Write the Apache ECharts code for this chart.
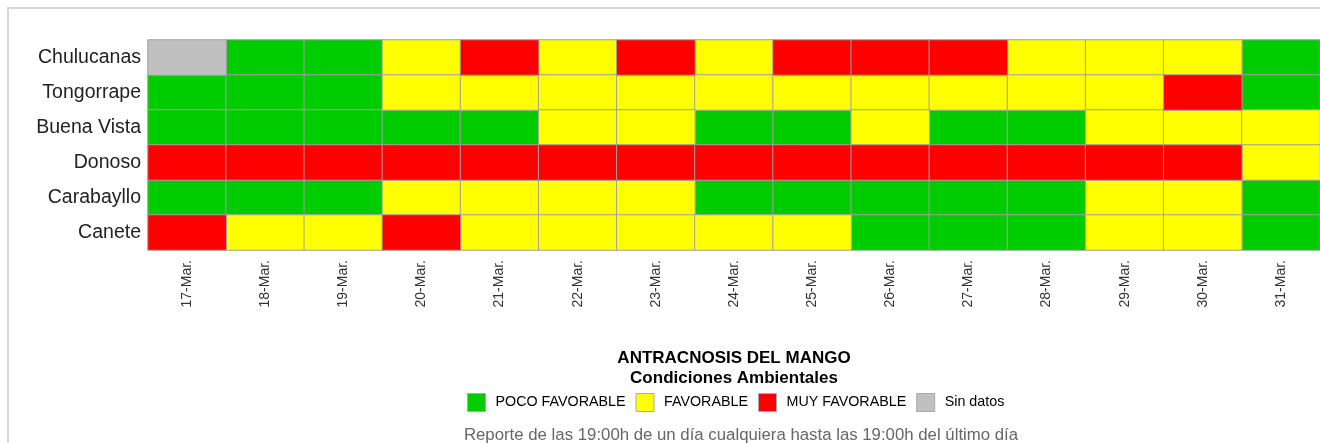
<!DOCTYPE html>
<html>
<head>
<meta charset="utf-8">
<script src="https://cdn.jsdelivr.net/npm/echarts@6/dist/echarts.min.js"></script>
<style>
html,body{margin:0;padding:0;background:#fff;}
#c{width:1320px;height:443px;}
</style>
</head>
<body>
<div id="c"></div>
<script>
// Categories
const days = ['17-Mar.','18-Mar.','19-Mar.','20-Mar.','21-Mar.','22-Mar.','23-Mar.','24-Mar.','25-Mar.','26-Mar.','27-Mar.','28-Mar.','29-Mar.','30-Mar.','31-Mar.'];
const stations = ['Chulucanas','Tongorrape','Buena Vista','Donoso','Carabayllo','Canete'];
// Condition classes: 0 = POCO FAVORABLE, 1 = FAVORABLE, 2 = MUY FAVORABLE, 3 = Sin datos
const classNames = ['POCO FAVORABLE','FAVORABLE','MUY FAVORABLE','Sin datos'];
const classColors = ['#00cc00','#ffff00','#ff0000','#c0c0c0'];
// Values per station (one per day)
const chulucanas = [3,0,0,1,2,1,2,1,2,2,2,1,1,1,0];
const tongorrape = [0,0,0,1,1,1,1,1,1,1,1,1,1,2,0];
const buenaVista = [0,0,0,0,0,1,1,0,0,1,0,0,1,1,1];
const donoso     = [2,2,2,2,2,2,2,2,2,2,2,2,2,2,1];
const carabayllo = [0,0,0,1,1,1,1,0,0,0,0,0,1,1,0];
const canete     = [2,1,1,2,1,1,1,1,1,0,0,0,1,1,0];
const rows = [chulucanas,tongorrape,buenaVista,donoso,carabayllo,canete];

const series = classNames.map((name, k) => {
  const data = [];
  rows.forEach((row, r) => row.forEach((v, d) => { if (v === k) data.push([d, r, v]); }));
  return {
    name: name,
    type: 'heatmap',
    data: data,
    itemStyle: { color: classColors[k], borderColor: '#a0a0a0', borderWidth: 1 },
    emphasis: { disabled: true },
    animation: false
  };
});

const chart = echarts.init(document.getElementById('c'), null, { renderer: 'canvas' });
chart.setOption({
  animation: false,
  backgroundColor: '#fff',
  textStyle: { fontFamily: 'Liberation Sans, Arial, sans-serif' },
  graphic: [{
    type: 'rect', silent: true, z: -1,
    shape: { x: 8, y: 8, width: 1400, height: 500 },
    style: { fill: 'none', stroke: '#d6d6d6', lineWidth: 2 }
  }],
  title: [{
    text: 'ANTRACNOSIS DEL MANGO\nCondiciones Ambientales',
    left: 729, top: 343, textAlign: 'center',
    textStyle: { fontSize: 17, fontWeight: 'bold', color: '#000', lineHeight: 20, fontFamily: 'Liberation Sans, Arial, sans-serif' }
  }, {
    text: 'Reporte de las 19:00h de un día cualquiera hasta las 19:00h del último día',
    left: 736, top: 422, textAlign: 'center',
    textStyle: { fontSize: 16.8, fontWeight: 'normal', color: '#666', fontFamily: 'Liberation Sans, Arial, sans-serif' }
  }],
  legend: {
    data: classNames,
    left: 467, top: 393,
    orient: 'horizontal',
    icon: 'rect',
    itemWidth: 18, itemHeight: 18, itemGap: 10,
    selectedMode: false,
    padding: 0,
    itemStyle: { borderColor: '#aaaaaa', borderWidth: 1 },
    textStyle: { fontSize: 14.3, color: '#000', padding: [0, 0, 0, 5], fontFamily: 'Liberation Sans, Arial, sans-serif' }
  },
  grid: { left: 148, right: -3, top: 40, bottom: 193, containLabel: false },
  xAxis: {
    type: 'category', data: days, position: 'bottom',
    splitArea: { show: false },
    axisLine: { show: false }, axisTick: { show: false },
    axisLabel: { rotate: 90, fontSize: 14, color: '#333', margin: 10, interval: 0 }
  },
  yAxis: {
    type: 'category', data: stations, inverse: true,
    axisLine: { show: false }, axisTick: { show: false },
    axisLabel: { fontSize: 19.5, color: '#222', margin: 7, interval: 0 }
  },
  series: series
});
</script>
</body>
</html>
